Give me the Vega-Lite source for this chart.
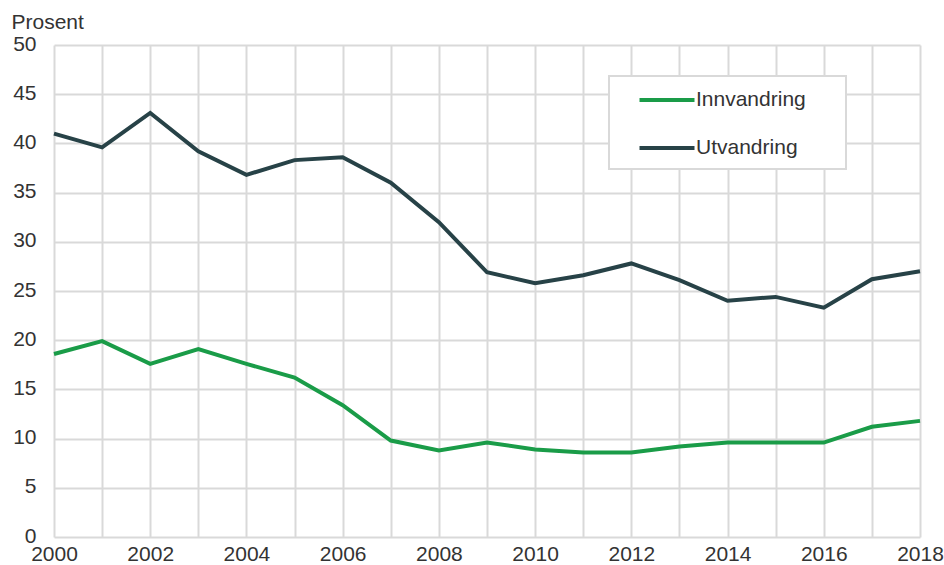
{
  "$schema": "https://vega.github.io/schema/vega-lite/v6.json",
  "width": 866,
  "height": 492,
  "autosize": {"type": "none"},
  "padding": {"left": 54, "top": 45, "right": 24, "bottom": 28},
  "background": "white",
  "config": {
    "view": {"stroke": null},
    "font": "Liberation Sans",
    "axis": {"labelFont": "Liberation Sans", "titleFont": "Liberation Sans", "labelColor": "#333333", "titleColor": "#333333"}
  },
  "data": {"values": [
    {"year": 2000, "serie": "Innvandring", "value": 18.6},
    {"year": 2001, "serie": "Innvandring", "value": 19.9},
    {"year": 2002, "serie": "Innvandring", "value": 17.6},
    {"year": 2003, "serie": "Innvandring", "value": 19.1},
    {"year": 2004, "serie": "Innvandring", "value": 17.6},
    {"year": 2005, "serie": "Innvandring", "value": 16.2},
    {"year": 2006, "serie": "Innvandring", "value": 13.4},
    {"year": 2007, "serie": "Innvandring", "value": 9.8},
    {"year": 2008, "serie": "Innvandring", "value": 8.8},
    {"year": 2009, "serie": "Innvandring", "value": 9.6},
    {"year": 2010, "serie": "Innvandring", "value": 8.9},
    {"year": 2011, "serie": "Innvandring", "value": 8.6},
    {"year": 2012, "serie": "Innvandring", "value": 8.6},
    {"year": 2013, "serie": "Innvandring", "value": 9.2},
    {"year": 2014, "serie": "Innvandring", "value": 9.6},
    {"year": 2015, "serie": "Innvandring", "value": 9.6},
    {"year": 2016, "serie": "Innvandring", "value": 9.6},
    {"year": 2017, "serie": "Innvandring", "value": 11.2},
    {"year": 2018, "serie": "Innvandring", "value": 11.8},
    {"year": 2000, "serie": "Utvandring", "value": 41.0},
    {"year": 2001, "serie": "Utvandring", "value": 39.6},
    {"year": 2002, "serie": "Utvandring", "value": 43.1},
    {"year": 2003, "serie": "Utvandring", "value": 39.2},
    {"year": 2004, "serie": "Utvandring", "value": 36.8},
    {"year": 2005, "serie": "Utvandring", "value": 38.3},
    {"year": 2006, "serie": "Utvandring", "value": 38.6},
    {"year": 2007, "serie": "Utvandring", "value": 36.0},
    {"year": 2008, "serie": "Utvandring", "value": 32.0},
    {"year": 2009, "serie": "Utvandring", "value": 26.9},
    {"year": 2010, "serie": "Utvandring", "value": 25.8},
    {"year": 2011, "serie": "Utvandring", "value": 26.6},
    {"year": 2012, "serie": "Utvandring", "value": 27.8},
    {"year": 2013, "serie": "Utvandring", "value": 26.1},
    {"year": 2014, "serie": "Utvandring", "value": 24.0},
    {"year": 2015, "serie": "Utvandring", "value": 24.4},
    {"year": 2016, "serie": "Utvandring", "value": 23.3},
    {"year": 2017, "serie": "Utvandring", "value": 26.2},
    {"year": 2018, "serie": "Utvandring", "value": 27.0}
  ]},
  "mark": {"type": "line", "strokeWidth": 4, "strokeJoin": "miter", "strokeCap": "butt"},
  "encoding": {
    "x": {
      "field": "year", "type": "quantitative",
      "scale": {"domain": [2000, 2018], "nice": false, "zero": false},
      "axis": {
        "title": null,
        "values": [2000, 2001, 2002, 2003, 2004, 2005, 2006, 2007, 2008, 2009, 2010, 2011, 2012, 2013, 2014, 2015, 2016, 2017, 2018],
        "labelExpr": "datum.value % 2 == 0 ? datum.value : ''",
        "labelFontSize": 21,
        "labelPadding": 6,
        "labelFlush": false,
        "labelOverlap": false,
        "domain": false, "ticks": false,
        "grid": true, "gridColor": "#d9d9d9", "gridWidth": 2
      }
    },
    "y": {
      "field": "value", "type": "quantitative",
      "scale": {"domain": [0, 50], "nice": false},
      "axis": {
        "title": "Prosent",
        "titleAngle": 0, "titleAlign": "left", "titleBaseline": "alphabetic",
        "titleX": -43, "titleY": -17,
        "titleFontSize": 21, "titleFontWeight": "normal",
        "values": [0, 5, 10, 15, 20, 25, 30, 35, 40, 45, 50],
        "labelFontSize": 21,
        "labelPadding": 18,
        "labelOffset": -1,
        "domain": false, "ticks": false,
        "grid": true, "gridColor": "#d9d9d9", "gridWidth": 2
      }
    },
    "color": {
      "field": "serie", "type": "nominal",
      "scale": {"domain": ["Innvandring", "Utvandring"], "range": ["#1a9c48", "#274247"]},
      "legend": {
        "title": null,
        "orient": "none",
        "legendX": 555,
        "legendY": 31,
        "padding": 11,
        "strokeColor": "#d9d9d9",
        "fillColor": "white",
        "symbolType": "M-2.5,0H2.5",
        "symbolSize": 484,
        "symbolStrokeWidth": 4,
        "symbolOffset": 34,
        "labelOffset": 16,
        "labelFontSize": 21,
        "labelColor": "#333333",
        "rowPadding": 25,
        "labelExpr": "datum.label + '\u00a0\u00a0\u00a0\u00a0\u00a0\u200b'",
        "encode": {"legend": {"update": {"strokeWidth": {"value": 2}}}}
      }
    }
  }
}
